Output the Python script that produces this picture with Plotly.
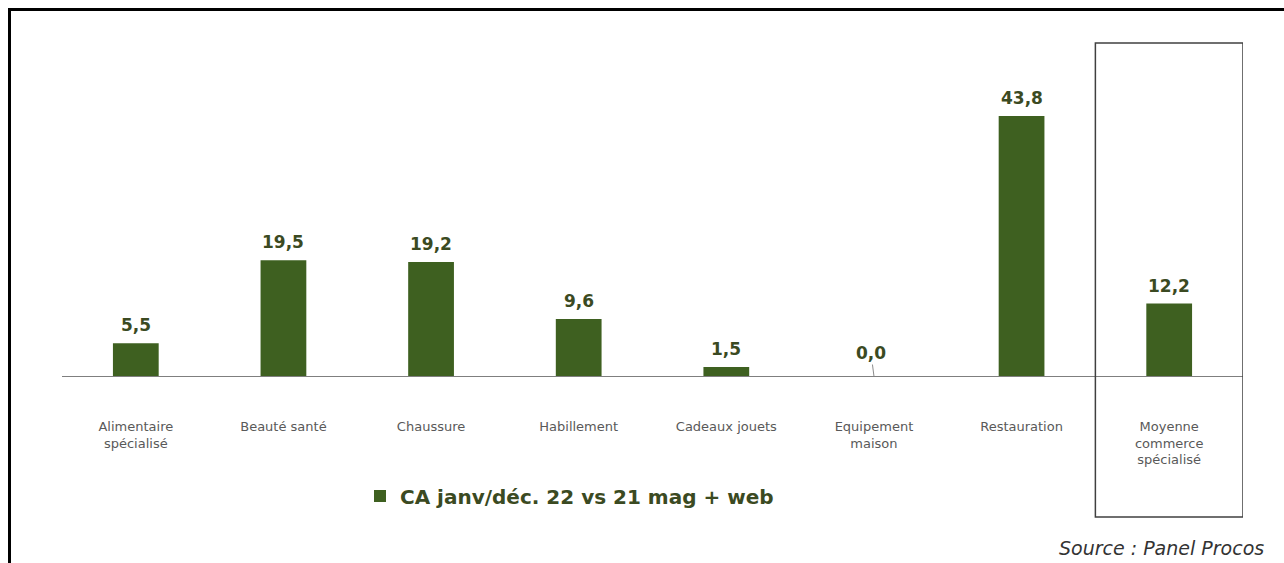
import plotly.graph_objects as go

categories = ["Alimentaire<br>spécialisé", "Beauté santé", "Chaussure", "Habillement",
              "Cadeaux jouets", "Equipement<br>maison", "Restauration",
              "Moyenne<br>commerce<br>spécialisé"]
values = [5.5, 19.5, 19.2, 9.6, 1.5, 0.0, 43.8, 12.2]
series_name = "CA janv/déc. 22 vs 21 mag + web"
source_text = "Source : Panel Procos"

BAR = "#3e6020"
LBL = "#3b4a22"
FONT = "DejaVu Sans"

W, H = 1284, 563
L, R, T, B = 62, 41, 43, 187
pw, ph = W - L - R, H - T - B

def px(x):
    return (x - L) / pw

def py(y):
    return (H - B - y) / ph

xs = list(range(len(categories)))

fig = go.Figure()
fig.add_trace(go.Bar(
    x=xs, y=values, name=series_name, marker=dict(color=BAR, line=dict(width=0)),
    showlegend=True,
))

annotations = []
for i, v in enumerate(values):
    txt = f"{v:.1f}".replace(".", ",")
    if v == 0:
        annotations.append(dict(x=i, y=v, xref="x", yref="y", text=f"<b>{txt}</b>",
                                showarrow=True, arrowhead=0, arrowwidth=1, arrowcolor="#8c8c8c",
                                ax=-3, ay=-23, font=dict(family=FONT, size=17, color=LBL)))
    else:
        annotations.append(dict(x=i, y=v, xref="x", yref="y", text=f"<b>{txt}</b>",
                                showarrow=False, yanchor="bottom", yshift=6,
                                font=dict(family=FONT, size=17, color=LBL)))

annotations.append(dict(x=px(1266), y=py(548), xref="paper", yref="paper", text=f"<i>{source_text}</i>",
                        showarrow=False, xanchor="right", yanchor="middle",
                        font=dict(family=FONT, size=19, color="#333333")))

shapes = [
    # outer frame (top and left)
    dict(type="line", xref="paper", yref="paper", x0=px(9.5), x1=px(1300), y0=py(9.5), y1=py(9.5),
         line=dict(color="black", width=3)),
    dict(type="line", xref="paper", yref="paper", x0=px(9.5), x1=px(9.5), y0=py(8), y1=py(570),
         line=dict(color="black", width=3)),
    # highlight box for last category
    dict(type="rect", xref="x", yref="paper", x0=6.5, x1=7.5, y0=py(517), y1=py(43),
         line=dict(color="#404040", width=1.5), fillcolor="rgba(0,0,0,0)"),
]

fig.update_layout(
    width=W, height=H,
    margin=dict(l=L, r=R, t=T, b=B, pad=0),
    paper_bgcolor="white", plot_bgcolor="white",
    bargap=0.69,
    font=dict(family=FONT),
    xaxis=dict(tickmode="array", tickvals=xs, ticktext=categories, range=[-0.5, 7.5],
               showline=True, linecolor="#7f7f7f", linewidth=1, showgrid=False, zeroline=False,
               ticks="", ticklabelstandoff=38, tickfont=dict(family=FONT, size=13, color="#595959")),
    yaxis=dict(range=[0, 333 / (260 / 43.8)], visible=False, showgrid=False, zeroline=False),
    showlegend=True,
    legend=dict(orientation="h", x=px(360), y=py(496), xanchor="left", yanchor="middle",
                font=dict(family=FONT, size=20, color=LBL, weight="bold"),
                itemwidth=30, bgcolor="rgba(0,0,0,0)"),
    annotations=annotations,
    shapes=shapes,
)

fig.write_html("out.html")
